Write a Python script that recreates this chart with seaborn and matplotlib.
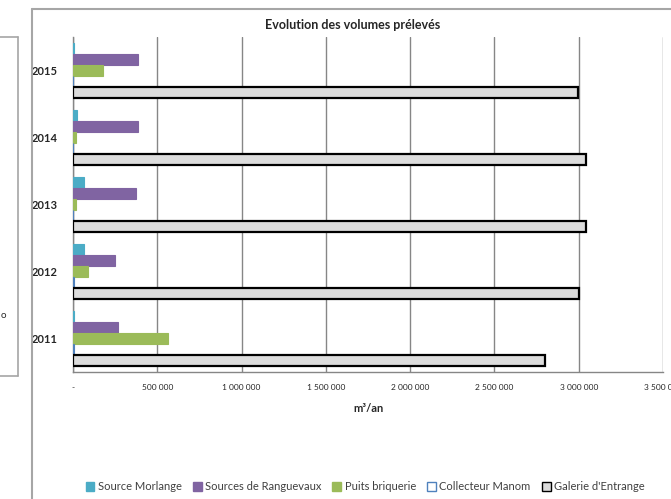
import seaborn as sns
import matplotlib.pyplot as plt
import pandas as pd
from matplotlib.patches import Patch
from matplotlib.lines import Line2D

# data (m3 / an)
annees = ['2015', '2014', '2013', '2012', '2011']
sources = ['Source Morlange', 'Sources de Ranguevaux', 'Puits briquerie',
           'Collecteur Manom', "Galerie d'Entrange"]
morlange = [5000, 22000, 67000, 67000, 4000]
ranguevaux = [384000, 387000, 374000, 249000, 269000]
puits = [180000, 20000, 16000, 91000, 562000]
collecteur = [0, 0, 0, 8000, 8000]
galerie = [2993000, 3043000, 3043000, 3003000, 2798000]
xticks = [0, 500000, 1000000, 1500000, 2000000, 2500000, 3000000, 3500000]

couleurs = ['#4BACC6', '#8064A2', '#9BBB59', '#FFFFFF', '#DCDCDC']
bords = ['#4BACC6', '#8064A2', '#9BBB59', '#4F81BD', '#000000']

df = pd.DataFrame({'annee': annees,
                   sources[0]: morlange, sources[1]: ranguevaux,
                   sources[2]: puits, sources[3]: collecteur,
                   sources[4]: galerie})
df = df.melt(id_vars='annee', var_name='source', value_name='volume')

sns.set_style('white')
plt.rcParams['font.family'] = ['Lato', 'DejaVu Sans']

fig = plt.figure(figsize=(6.71, 4.99), dpi=100)
ax = fig.add_axes([73/671, 1 - 372/499, 590/671, 335/499])

sns.barplot(data=df, x='volume', y='annee', hue='source', order=annees,
            hue_order=sources, palette=dict(zip(sources, couleurs)),
            width=0.82, orient='h', ax=ax, legend=False)

for cont, ec, fc in zip(ax.containers, bords, couleurs):
    for bar in cont:
        bar.set_facecolor(fc)
        bar.set_edgecolor(ec)
        bar.set_linewidth(1.6 if ec == '#000000' else 0.8)
        bar.set_zorder(3)

ax.set_xlim(0, 3500000)
ax.set_ylim(4.5, -0.5)
ax.set_xticks(xticks)
ax.set_xticklabels(['-'] + [f'{v:,}'.replace(',', ' ') for v in xticks[1:]],
                   fontsize=6)
ax.set_yticks(range(5))
ax.set_yticklabels(annees, fontsize=8, fontweight='bold')
ax.set_yticks([i - 0.5 for i in range(6)], minor=True)
ax.tick_params(axis='y', which='major', length=0, pad=11)
ax.tick_params(axis='y', which='minor', length=4, color='#868686', width=1)
ax.tick_params(axis='x', length=3, color='#868686', width=1, pad=6)
ax.grid(axis='x', color='#868686', lw=1, zorder=0)
ax.set_axisbelow(True)
for s in ['top', 'right']:
    ax.spines[s].set_visible(False)
for s in ['left', 'bottom']:
    ax.spines[s].set_color('#868686')
    ax.spines[s].set_linewidth(1)
ax.set_ylabel('')
ax.set_xlabel('m³/an', fontsize=8, fontweight='bold', labelpad=8)

fig.text(353/671, 1 - 25/499, 'Evolution des volumes prélevés', ha='center',
         va='center', fontsize=9, fontweight='bold')

handles = [Patch(facecolor=c, edgecolor=e, lw=1) for c, e in zip(couleurs, bords)]
fig.legend(handles, sources, loc='center', bbox_to_anchor=(365/671, 1 - 487/499),
           ncol=5, frameon=False, fontsize=8, handlelength=0.8, handleheight=0.8,
           handletextpad=0.3, columnspacing=1.0, labelcolor='#404040')

# chart frame and the edge of the neighbouring chart
gris = '#A6A6A6'
fig.add_artist(Line2D([32/671, 32/671], [1 - 9/499, 0], color=gris, lw=1.5))
fig.add_artist(Line2D([32/671, 1], [1 - 9/499, 1 - 9/499], color=gris, lw=1.5))
fig.add_artist(Line2D([18/671, 18/671], [1 - 37/499, 1 - 376/499], color=gris, lw=1.2))
fig.add_artist(Line2D([0, 18/671], [1 - 37/499, 1 - 37/499], color=gris, lw=1.2))
fig.add_artist(Line2D([0, 18/671], [1 - 376/499, 1 - 376/499], color=gris, lw=1.2))
fig.text(1/671, 1 - 316/499, 'o', fontsize=7, va='center')

fig.savefig('out.png', dpi=100)
